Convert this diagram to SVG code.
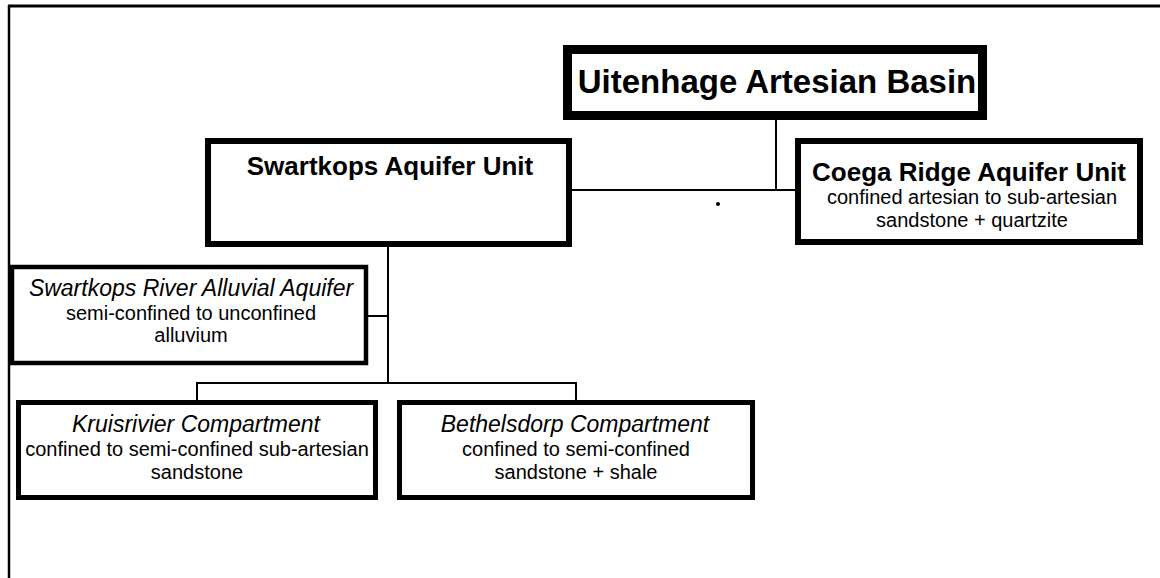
<svg xmlns="http://www.w3.org/2000/svg" width="1160" height="578" viewBox="0 0 1160 578">
<style>
  .box { fill: #ffffff; stroke: #000000; }
  .conn { stroke: #000000; stroke-width: 2; fill: none; }
  text { font-family: "Liberation Sans", Arial, sans-serif; fill: #000000; text-anchor: middle; }
  .t0 { font-size: 33px; font-weight: bold; }
  .t1 { font-size: 26px; font-weight: bold; }
  .it { font-size: 23px; font-style: italic; }
  .sub { font-size: 20px; }
</style>
<rect x="0" y="0" width="1160" height="578" fill="#ffffff"/>
<g id="frame">
  <line x1="8" y1="6" x2="1160" y2="6" stroke="#000" stroke-width="3"/>
  <line x1="9" y1="5" x2="9" y2="578" stroke="#000" stroke-width="2.5"/>
</g>
<g id="connectors">
  <line class="conn" x1="776" y1="120" x2="776" y2="190"/>
  <line class="conn" x1="572" y1="190" x2="795" y2="190"/>
  <line class="conn" x1="388" y1="247" x2="388" y2="383"/>
  <line class="conn" x1="368" y1="316" x2="388" y2="316"/>
  <line class="conn" x1="197" y1="383" x2="576" y2="383"/>
  <line class="conn" x1="197" y1="382" x2="197" y2="400"/>
  <line class="conn" x1="576" y1="382" x2="576" y2="400"/>
</g>
<g id="uitenhage">
  <rect class="box" x="567.5" y="49.5" width="415" height="66" stroke-width="9"/>
  <text class="t0" x="777" y="93">Uitenhage Artesian Basin</text>
</g>
<g id="swartkops">
  <rect class="box" x="208" y="141" width="361" height="103" stroke-width="6"/>
  <text class="t1" x="390" y="175">Swartkops Aquifer Unit</text>
</g>
<g id="coega">
  <rect class="box" x="798" y="141" width="342" height="101" stroke-width="6"/>
  <text class="t1" x="969" y="181">Coega Ridge Aquifer Unit</text>
  <text class="sub" x="972" y="204">confined artesian to sub-artesian</text>
  <text class="sub" x="972" y="227">sandstone + quartzite</text>
</g>
<g id="alluvial">
  <rect class="box" x="12" y="267" width="354" height="96" stroke-width="4.5"/>
  <text class="it" x="191" y="296">Swartkops River Alluvial Aquifer</text>
  <text class="sub" x="191" y="320">semi-confined to unconfined</text>
  <text class="sub" x="191" y="342">alluvium</text>
</g>
<g id="kruisrivier">
  <rect class="box" x="18.5" y="402.5" width="357" height="95" stroke-width="5"/>
  <text class="it" x="196" y="432">Kruisrivier Compartment</text>
  <text class="sub" x="197" y="456">confined to semi-confined sub-artesian</text>
  <text class="sub" x="197" y="479">sandstone</text>
</g>
<g id="bethelsdorp">
  <rect class="box" x="399.5" y="402.5" width="353" height="95" stroke-width="5"/>
  <text class="it" x="575" y="432">Bethelsdorp Compartment</text>
  <text class="sub" x="576" y="456">confined to semi-confined</text>
  <text class="sub" x="576" y="479">sandstone + shale</text>
</g>
<circle cx="718" cy="204" r="2" fill="#000"/>
</svg>
